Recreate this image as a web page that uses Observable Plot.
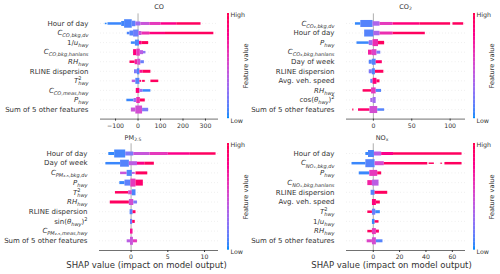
<!DOCTYPE html>
<html><head><meta charset="utf-8">
<script src="https://cdn.jsdelivr.net/npm/d3@7"></script>
<script src="https://cdn.jsdelivr.net/npm/@observablehq/plot@0.6"></script>
<style>
body{margin:0;background:#fff;}
#root{position:relative;width:500px;height:274px;overflow:hidden;font-family:"DejaVu Sans",sans-serif;color:#333;}
.abs{position:absolute;line-height:1;white-space:nowrap;}
.c{transform:translate(-50%,-50%);}
sub{font-size:70%;vertical-align:-0.25em;line-height:0;}
</style></head><body><div id="root"></div>
<script>
// ---------- data ----------
const coFeatures = ["Hour of day", "$C_{CO,bkg,dv}", "$1/u_{hwy}", "$C_{CO,bkg,hanlans}", "$RH_{hwy}", "RLINE dispersion", "$T^{2}_{hwy}", "$C_{CO,meas,hwy}", "$P_{hwy}", "Sum of 5 other features"];
const co2Features = ["$C_{CO₂,bkg,dv}", "Hour of day", "$P_{hwy}", "$C_{CO₂,bkg,hanlans}", "Day of week", "RLINE dispersion", "Avg. veh. speed", "$RH_{hwy}", "$cos(θ_{hwy})^{2}", "Sum of 5 other features"];
const pmFeatures = ["Hour of day", "Day of week", "$C_{PM₂.₅,bkg,dv}", "$P_{hwy}", "$T^{2}_{hwy}", "$RH_{hwy}", "RLINE dispersion", "$sin(θ_{hwy})^{2}", "$C_{PM₂.₅,meas,hwy}", "Sum of 5 other features"];
const noxFeatures = ["Hour of day", "$C_{NOₓ,bkg,dv}", "$P_{hwy}", "$C_{NOₓ,bkg,hanlans}", "RLINE dispersion", "Avg. veh. speed", "$T^{2}_{hwy}", "$1/u_{hwy}", "$RH_{hwy}", "Sum of 5 other features"];

// swarm runs per feature: [shap from, shap to, point density, feature value 0..1]
const coSwarm = [
  [[-148,-140,1.5,0.03],[-136,-75,2.5,0.05],[-75,-62,5,0.06],[-62,-28,8.5,0.08],[-28,-12,5.5,0.12],[-12,10,4,0.3],[10,50,3,0.45],[50,100,3,0.6],[100,170,2.5,0.8],[170,278,2.5,0.95]],
  [[-50,-38,2.5,0.08],[-38,-22,5,0.1],[-22,2,7,0.15],[2,15,4,0.45],[15,50,3,0.65],[50,120,2.5,0.85],[120,335,2.5,0.95]],
  [[-32,-14,2.5,0.05],[-14,4,6,0.08],[4,15,3.5,0.8],[15,45,3,0.95]],
  [[-22,-8,6,0.85],[-8,8,7,0.6],[8,22,4,0.4],[22,33,2.5,0.25]],
  [[-38,-15,2.5,0.95],[-15,-3,5,0.7],[-3,10,6,0.5],[10,26,3,0.15]],
  [[-18,-5,4,0.2],[-5,6,6,0.1],[6,20,3,0.75],[20,55,3,0.95]],
  [[-28,-12,2.5,0.4],[-12,6,6,0.1],[6,14,2,0.9],[18,30,2,0.95],[55,90,2.5,0.95]],
  [[-10,6,5,0.85],[6,20,3,0.3],[20,55,2.5,0.05]],
  [[-52,-20,2.5,0.05],[-20,-8,4,0.3],[-8,8,6,0.65],[8,30,3,0.95]],
  [[-32,-12,4,0.45],[-12,18,8,0.5],[18,45,3.5,0.2]]
];
const co2Swarm = [
  [[-24,-17,2.5,0.04],[-17,-1,7,0.1],[-1,8,4.5,0.35],[8,25,3,0.6],[25,60,2.5,0.85],[60,100,2.5,0.95],[103,117,2.5,0.95]],
  [[-12,0,7,0.1],[0,8,4.5,0.35],[8,25,3,0.65],[25,67,2.5,0.95]],
  [[-22,-6,2.5,0.05],[-6,-1,5,0.3],[-1,6,7,0.65],[6,14,3.5,0.95]],
  [[-7,-2,5,0.7],[-2,4,6,0.55],[4,9,3,0.2]],
  [[-6,-2,4,0.1],[-2,3,6,0.1],[3,11,3,0.9]],
  [[-6,-2,4,0.2],[-2,2,6,0.1],[2,13,3,0.95]],
  [[-4,-1,4,0.15],[-1,4,6,0.85],[4,8,3,0.95]],
  [[-14,-3,2.5,0.95],[-3,3,6,0.6],[3,10,3,0.1]],
  [[-4,-1,4,0.35],[-1,3,6,0.3]],
  [[-27.5,-26,2,0.95],[-20,-5,2.5,0.9],[-5,5,7,0.5],[5,14,2.5,0.1]]
];
const pmSwarm = [
  [[-3.1,-2.3,3,0.04],[-2.3,-0.8,8,0.07],[-0.8,0.3,4,0.2],[0.3,2.5,3,0.45],[2.5,5,3,0.6],[5,8,2.5,0.8],[8,11.5,2.5,0.95]],
  [[-3.5,-1.5,2.5,0.05],[-1.5,-0.3,7,0.1],[-0.3,0.8,4,0.4],[0.8,1.8,3,0.8],[1.8,3.1,3,0.95]],
  [[-1.5,-0.6,2.5,0.45],[-0.6,0.1,6,0.08],[0.1,0.5,2,0.4],[0.6,2.2,3,0.95]],
  [[-1.6,-0.9,3,0.05],[-0.9,-0.1,6,0.12],[-0.1,0.6,8,0.6],[0.6,1.6,6,0.9]],
  [[-2.2,-0.4,2.5,0.95],[-0.4,0.1,4,0.5],[0.1,0.6,6,0.08]],
  [[-2.9,-0.3,3,0.95],[-0.3,0.3,6,0.5],[0.3,0.8,3,0.2]],
  [[-0.2,0.2,5,0.1],[0.2,0.6,3,0.95]],
  [[-0.15,0.15,5,0.15],[0.15,0.5,3,0.95]],
  [[-0.15,0.2,5,0.75]],
  [[-0.6,-0.15,3,0.4],[-0.15,0.25,8,0.45],[0.25,0.8,3,0.6]]
];
const noxSwarm = [
  [[-6,-4,3,0.05],[-4,0.5,7,0.08],[0.5,6,4,0.4],[6,15,3,0.8],[15,67,2.5,0.95]],
  [[-16.5,-6,2.5,0.05],[-6,1,8,0.1],[1,8,4,0.5],[8,41,2.5,0.95],[42,46,1.5,0.95],[51,52,1.5,0.95],[54,67,2.5,0.95]],
  [[-11,-3,3,0.05],[-3,3,6,0.6],[3,6,3,0.95]],
  [[-4.5,-1,5,0.7],[-1,4,6,0.4]],
  [[-2,1,5,0.1],[1,10.6,3,0.95]],
  [[-1,2,6,0.85],[2,5,3,0.95]],
  [[-4.5,-1,2.5,0.95],[-1,1.5,6,0.15],[1.5,5,3,0.05]],
  [[-1,1,5,0.05],[1,4,2.5,0.95]],
  [[-4.5,-1,2.5,0.95],[-1,2,6,0.6],[2,4.3,3,0.9]],
  [[-5,-1,3,0.55],[-1,2,7,0.5],[2,7,3,0.1]]
];
const coTicks = [-100, 0, 100, 200, 300];
const co2Ticks = [0, 50, 100];
const pmTicks = [0, 5, 10];
const noxTicks = [0, 20, 40, 60];
const titles = ["CO", "CO<sub>2</sub>", "PM<sub>2.5</sub>", "NO<sub>x</sub>"];
const xLabel = "SHAP value (impact on model output)";
const cbHigh = "High", cbLow = "Low", cbLabel = "Feature value";

// ---------- drawing ----------
const root = document.getElementById("root");
const color = {type: "linear", domain: [0, 1], range: ["#008bfb", "#ff0051"], interpolate: d3.interpolateHcl};
const NS = "http://www.w3.org/2000/svg";

function richText(el, s) {
  if (!s.startsWith("$")) return;
  s = s.slice(1);
  const fs = 7;
  const runs = [];
  let i = 0;
  while (i < s.length) {
    if ((s[i] === "_" || s[i] === "^") && s[i + 1] === "{") {
      const j = s.indexOf("}", i);
      runs.push({t: s.slice(i + 2, j), m: s[i] === "_" ? "sub" : "sup"});
      i = j + 1;
    } else {
      let j = i;
      while (j < s.length && !((s[j] === "_" || s[j] === "^") && s[j + 1] === "{")) j++;
      runs.push({t: s.slice(i, j), m: "n"});
      i = j;
    }
  }
  el.textContent = "";
  let cur = 0, prev = null;
  for (const r of runs) {
    const size = r.m === "n" ? fs : fs * 0.72;
    const target = r.m === "sub" ? fs * 0.3 : r.m === "sup" ? -fs * 0.4 : 0;
    const parts = r.t.match(/cos|sin|[A-Za-zθₓ]+|[^A-Za-zθₓ]+/g) || [];
    let first = true;
    r.nodes = [];
    for (const p of parts) {
      const ts = document.createElementNS(NS, "tspan");
      ts.textContent = p;
      ts.setAttribute("font-size", size);
      if (/^[A-Za-zθₓ]+$/.test(p) && p !== "cos" && p !== "sin") ts.setAttribute("font-style", "italic");
      if (first) {
        const dy = target - cur;
        if (dy) ts.setAttribute("dy", dy.toFixed(2));
        cur = target;
        if (r.m === "sub" && prev && prev.m === "sup") ts.setAttribute("dx", (-prev.w).toFixed(2));
      }
      el.appendChild(ts);
      r.nodes.push(ts);
      first = false;
    }
    r.w = r.nodes.reduce((a, n) => a + n.getComputedTextLength(), 0);
    prev = r;
  }
}

function addText(html, x, y, cls, style) {
  const d = document.createElement("div");
  d.className = "abs " + (cls || "");
  d.innerHTML = html;
  d.style.left = x + "px";
  d.style.top = y + "px";
  Object.assign(d.style, style || {});
  root.appendChild(d);
  return d;
}

function colorbar(x, y0, y1) {
  const svg = Plot.plot({
    width: 2, height: y1 - y0, margin: 0,
    x: {domain: [0, 1], axis: null}, y: {domain: [0, 1], axis: null}, color,
    marks: [Plot.rect(d3.range(80), {x1: 0, x2: 1, y1: d => d / 80, y2: d => Math.min(1, (d + 1.3) / 80), fill: d => d / 79})]
  });
  const d = document.createElement("div");
  d.className = "abs";
  d.style.left = x + "px"; d.style.top = y0 + "px";
  d.appendChild(svg);
  root.appendChild(d);
  addText(cbHigh, x + 3.5, y0 + 2, "", {fontSize: "6.3px", transform: "translateY(-50%)"});
  addText(cbLow, x + 3.5, y1 + 2, "", {fontSize: "6.3px", transform: "translateY(-50%)"});
  addText(cbLabel, x + 19, (y0 + y1) / 2, "c", {fontSize: "6.6px", transform: "translate(-50%,-50%) rotate(-90deg)"});
}

function panel(cfg) {
  const {left, top, ml, mr, mt, mb, features, swarm, ticks, domain} = cfg;
  const segs = swarm.flatMap((list, i) => list.map(([x1, x2, n, v]) => ({i, x1, x2, n, v})));
  const svg = Plot.plot({
    width: 250, height: 137,
    marginLeft: ml, marginRight: mr, marginTop: mt, marginBottom: mb,
    style: {fontFamily: "DejaVu Sans, sans-serif", background: "transparent", overflow: "visible"},
    x: {domain, ticks},
    y: {domain: [-1, 10], reverse: true, axis: null},
    color,
    marks: [
      Plot.ruleY(d3.range(10), {stroke: "#cccccc", strokeWidth: 0.5, strokeDasharray: "0.6,2.6"}),
      Plot.ruleX([0], {stroke: "#999999", strokeWidth: 0.8}),
      Plot.link(segs, {x1: "x1", x2: "x2", y1: "i", y2: "i", stroke: "v", strokeWidth: d => d.n}),
      Plot.ruleY([10], {stroke: "#333333", strokeWidth: 0.7}),
      Plot.axisX({ticks, tickSize: 2, tickPadding: 2, fontSize: 6.2, color: "#333333", label: null}),
      Plot.axisY(d3.range(10), {tickSize: 0, tickPadding: 12, fontSize: 7, color: "#333333", label: null, tickFormat: i => features[i]})
    ]
  });
  const d = document.createElement("div");
  d.className = "abs";
  d.style.left = left + "px"; d.style.top = top + "px";
  d.appendChild(svg);
  root.appendChild(d);
  svg.querySelectorAll('g[aria-label="y-axis tick label"] text').forEach((t, k) => richText(t, features[k]));
}

panel({left: 0, top: 0, ml: 100, mr: 32, mt: 13.4, mb: 18.4, features: coFeatures, swarm: coSwarm, ticks: coTicks, domain: [-167, 358]});
panel({left: 250, top: 0, ml: 96, mr: 35, mt: 13.4, mb: 18.4, features: co2Features, swarm: co2Swarm, ticks: co2Ticks, domain: [-35, 120]});
panel({left: 0, top: 137, ml: 99, mr: 32, mt: 6.3, mb: 24, features: pmFeatures, swarm: pmSwarm, ticks: pmTicks, domain: [-4.3, 11.9]});
panel({left: 250, top: 137, ml: 96, mr: 35, mt: 6.3, mb: 24, features: noxFeatures, swarm: noxSwarm, ticks: noxTicks, domain: [-20.3, 70]});

addText(titles[0], 159, 7, "c", {fontSize: "6.5px"});
addText(titles[1], 405.5, 7, "c", {fontSize: "6.5px"});
addText(titles[2], 133, 138, "c", {fontSize: "6.5px"});
addText(titles[3], 382, 138, "c", {fontSize: "6.5px"});

colorbar(227, 13.4, 118.6);
colorbar(473, 13.4, 118.6);
colorbar(227, 143.3, 250);
colorbar(473, 143.3, 250);

addText(xLabel, 146.5, 264.5, "c", {fontSize: "8.5px"});
addText(xLabel, 391.5, 264.5, "c", {fontSize: "8.5px"});
</script></body></html>
